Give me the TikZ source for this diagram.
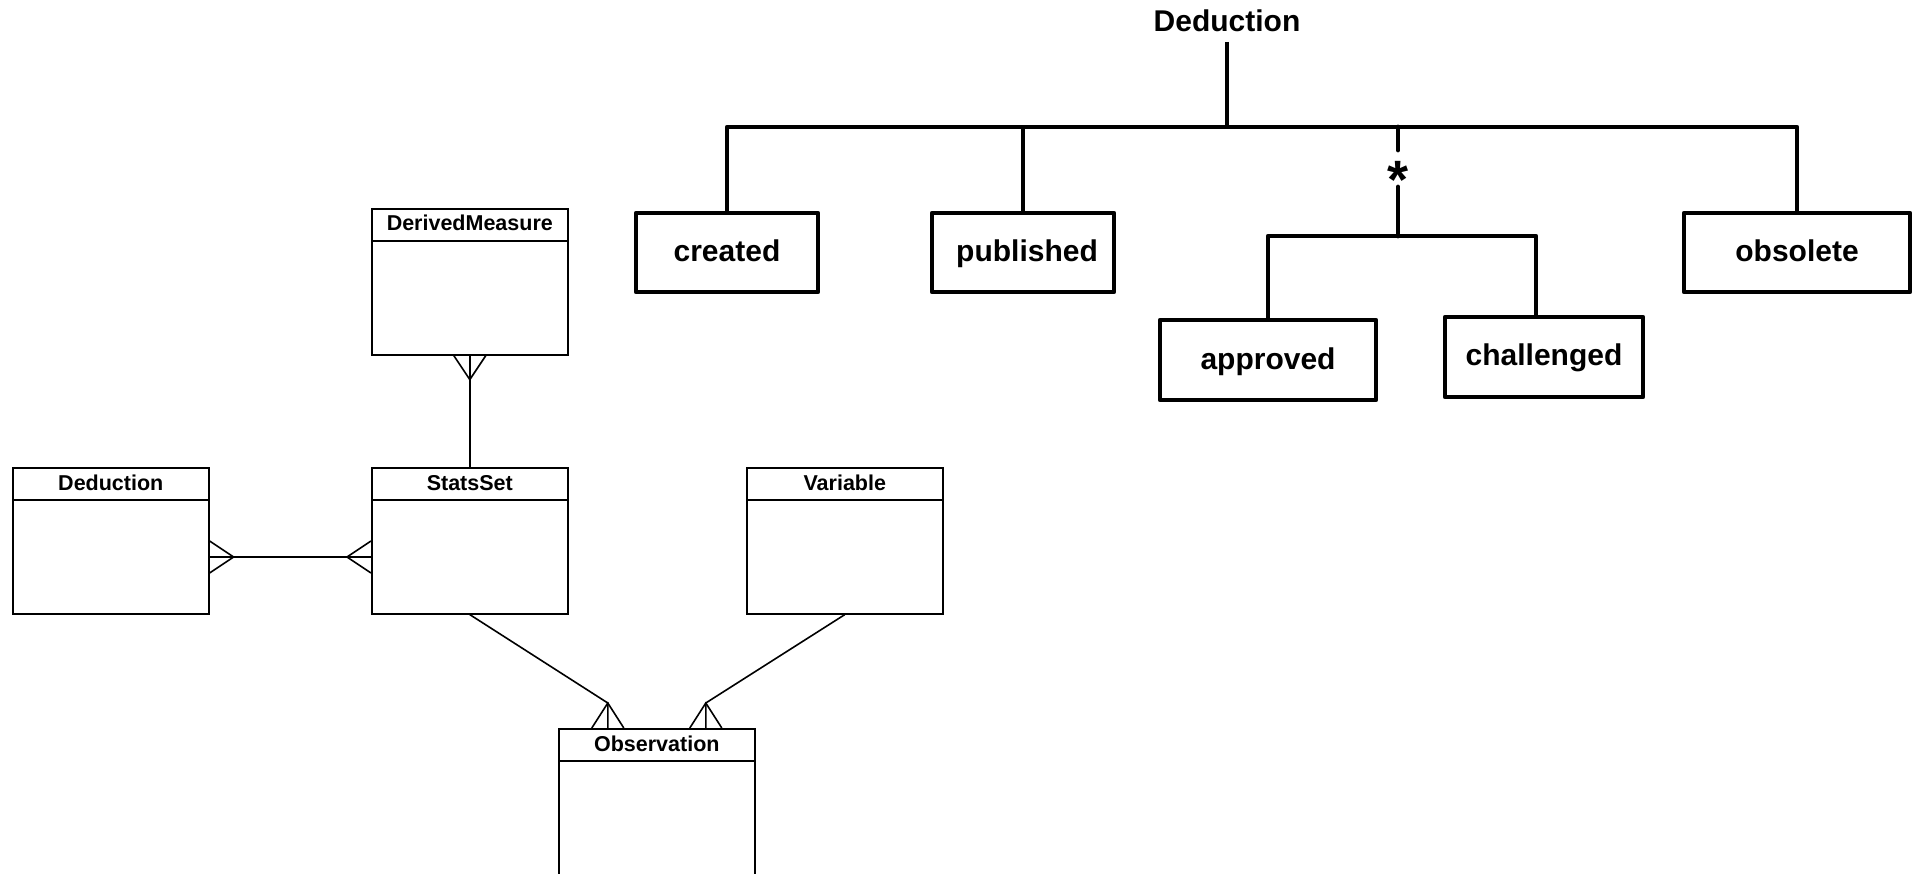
\documentclass[tikz,border=0pt]{standalone}
\usepackage{fontspec}
\setmainfont{Liberation Sans}
\begin{document}
\begin{tikzpicture}[x=1pt,y=-1pt,
  entity/.style={draw, line width=1.6pt, minimum width=196pt, minimum height=146pt, anchor=north west, inner sep=0pt},
  etitle/.style={font=\fontsize{21.5}{24}\selectfont\bfseries, anchor=base, inner sep=0pt},
  erline/.style={line width=1.6pt},
  state/.style={draw, line width=4.5pt, line join=round, font=\fontsize{30}{36}\selectfont\bfseries, text height=22pt, text depth=4pt, inner sep=0pt, minimum height=79pt},
  tline/.style={line width=4.8pt, line join=round},
  roottitle/.style={font=\fontsize{30}{36}\selectfont\bfseries, anchor=base, inner sep=0pt},
  startext/.style={font=\fontsize{54}{54}\selectfont\bfseries, anchor=base, inner sep=0pt}
]
\useasboundingbox (0,0) rectangle (1921,874);

% ---------- ER diagram ----------
\node[entity] (ded) at (12,467) {};
\node[entity] (dm) at (371,208) {};
\node[entity] (ss) at (371,467) {};
\node[entity] (var) at (746,467) {};
\node[entity] (obs) at (558,728) {};

\foreach \n in {ded,dm,ss,var,obs}{
  \draw[erline] ([yshift=-33pt]\n.north west) -- ([yshift=-33pt]\n.north east);
}
\node[etitle] (dedT) at ([yshift=-23pt]ded.north) {Deduction};
\node[etitle] (dmT) at ([yshift=-23pt]dm.north) {DerivedMeasure};
\node[etitle] (ssT) at ([yshift=-23pt]ss.north) {StatsSet};
\node[etitle] (varT) at ([yshift=-23pt]var.north) {Variable};
\node[etitle] (obsT) at ([yshift=-23pt]obs.north) {Observation};

% DerivedMeasure -- StatsSet
\draw[erline] (dm.south) -- (ss.north);
\draw[erline] ([xshift=-16pt]dm.south) -- ([yshift=-24pt]dm.south) -- ([xshift=16pt]dm.south);

% Deduction -- StatsSet
\coordinate (a1) at ([yshift=-90pt]ded.north east);
\coordinate (a2) at ([yshift=-90pt]ss.north west);
\draw[erline] (a1) -- (a2);
\draw[erline] ([yshift=16pt]a1) -- ([xshift=24pt]a1) -- ([yshift=-16pt]a1);
\draw[erline] ([yshift=16pt]a2) -- ([xshift=-24pt]a2) -- ([yshift=-16pt]a2);

% StatsSet -- Observation
\coordinate (o1) at ([xshift=-49pt]obs.north);
\coordinate (o1a) at ([yshift=25pt]o1);
\draw[erline] (ss.south) -- (o1a) -- (o1);
\draw[erline] ([xshift=-16pt]o1) -- (o1a) -- ([xshift=16pt]o1);

% Variable -- Observation
\coordinate (o2) at ([xshift=49pt]obs.north);
\coordinate (o2a) at ([yshift=25pt]o2);
\draw[erline] (var.south) -- (o2a) -- (o2);
\draw[erline] ([xshift=-16pt]o2) -- (o2a) -- ([xshift=16pt]o2);

% ---------- State tree ----------
\node[roottitle] (root) at (1227,32) {Deduction};
\node[state, minimum width=182pt] (cr) at (727,252.5) {created};
\node[state, minimum width=182pt] (pu) at (1023,252.5) {\hspace*{8pt}published};
\node[state, minimum width=226pt] (ob) at (1797,252.5) {obsolete};
\node[state, minimum width=216pt, minimum height=80pt] (ap) at (1268,360) {approved};
\node[state, minimum width=198pt, minimum height=80pt] (ch) at (1544,357) {challenged};

\coordinate (barY) at (0,127);
\coordinate (subY) at (0,236);
\draw[tline] (cr.north) -- (cr.north |- barY) -- (ob.north |- barY) -- (ob.north);
\draw[tline] (pu.north) -- (pu.north |- barY);
\draw[tline] ([yshift=-10pt]root.base) -- (root.base |- barY);

\coordinate (chTop) at ([xshift=-8pt]ch.north);
\draw[tline] (ap.north) -- (ap.north |- subY) -- (chTop |- subY) -- (chTop);

\coordinate (mTop) at (1398,127);
\coordinate (s1) at (1398,150);
\coordinate (s2) at (1398,187);
\coordinate (mBot) at (1398,236);
\draw[tline, line cap=round] (mTop) -- (s1);
\draw[tline, line cap=round] (s2) -- (mBot);
\node[startext] (star) at (1398,199) {*};
\end{tikzpicture}
\end{document}
